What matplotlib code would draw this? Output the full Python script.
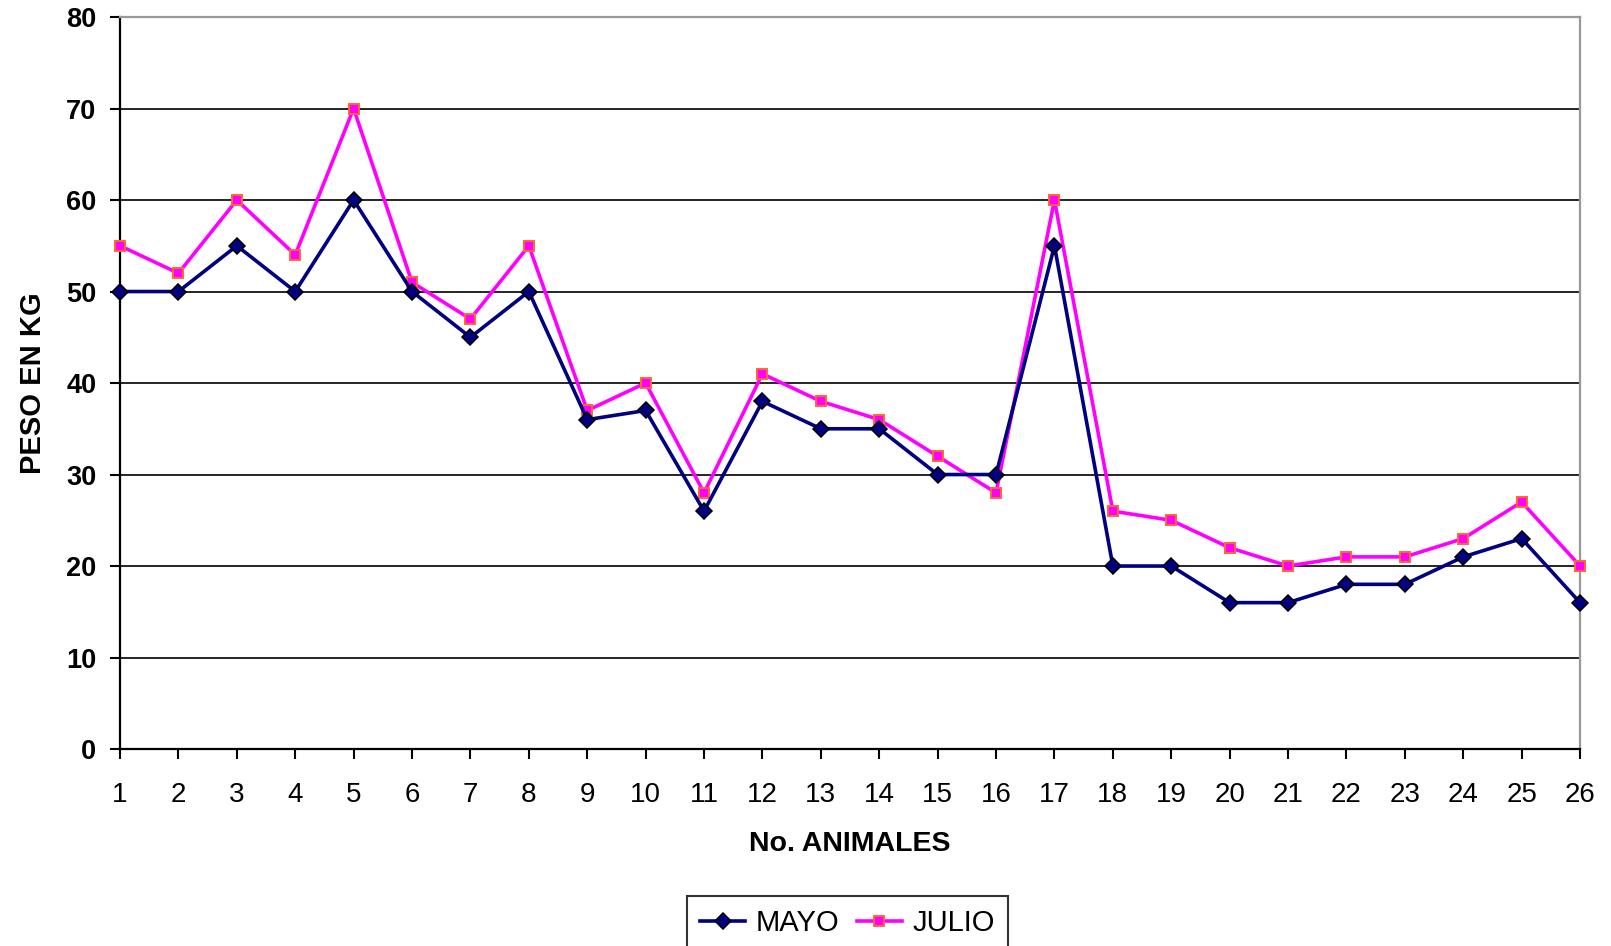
import matplotlib.pyplot as plt

plt.rcParams['font.family'] = ['Liberation Sans', 'DejaVu Sans']

animales = list(range(1, 27))
mayo = [50, 50, 55, 50, 60, 50, 45, 50, 36, 37, 26, 38, 35, 35, 30, 30,
        55, 20, 20, 16, 16, 18, 18, 21, 23, 16]
julio = [55, 52, 60, 54, 70, 51, 47, 55, 37, 40, 28, 41, 38, 36, 32, 28,
         60, 26, 25, 22, 20, 21, 21, 23, 27, 20]

fig = plt.figure(figsize=(16.11, 9.46), dpi=100)
ax = fig.add_axes([0.0745, 0.2082, 0.9063, 0.7738])

ax.plot(animales, julio, color='#FF00FF', lw=2.6, marker='s', ms=7.5,
        mfc='#FF00FF', mec='#FF6633', mew=1.4, label='JULIO', zorder=3,
        clip_on=False)
ax.plot(animales, mayo, color='#000080', lw=2.6, marker='D', ms=8,
        mfc='#000080', mec='black', mew=1.1, label='MAYO', zorder=4,
        clip_on=False)

ax.set_xlim(1, 26)
ax.set_ylim(0, 80)
ax.set_yticks(range(0, 81, 10))
ax.set_xticks(animales)
ax.yaxis.grid(True, color='black', lw=1.2)
ax.set_axisbelow(True)

for s in ['left', 'bottom']:
    ax.spines[s].set_color('black')
    ax.spines[s].set_linewidth(1.6)
for s in ['top', 'right']:
    ax.spines[s].set_color('#999999')
    ax.spines[s].set_linewidth(1.6)

ax.tick_params(axis='both', direction='out', length=7, width=1.5)
ax.tick_params(axis='x', labelsize=20, pad=17)
ax.tick_params(axis='y', labelsize=19.5, pad=10)
for lbl in ax.get_yticklabels():
    lbl.set_fontweight('bold')

ax.set_xlabel('No. ANIMALES', fontsize=20.5, fontweight='bold', labelpad=16)
ax.set_ylabel('PESO EN KG', fontsize=21, fontweight='bold', labelpad=14)

handles, labels = ax.get_legend_handles_labels()
leg = fig.legend(handles[::-1], labels[::-1], loc='upper center', ncol=2,
                 bbox_to_anchor=(0.526, 0.0529), fontsize=21, frameon=True,
                 fancybox=False, edgecolor='black', handlelength=1.55,
                 columnspacing=0.6, handletextpad=0.35, borderpad=0.45,
                 borderaxespad=0)
leg.get_frame().set_linewidth(1.5)

fig.savefig('out.png', dpi=100)
